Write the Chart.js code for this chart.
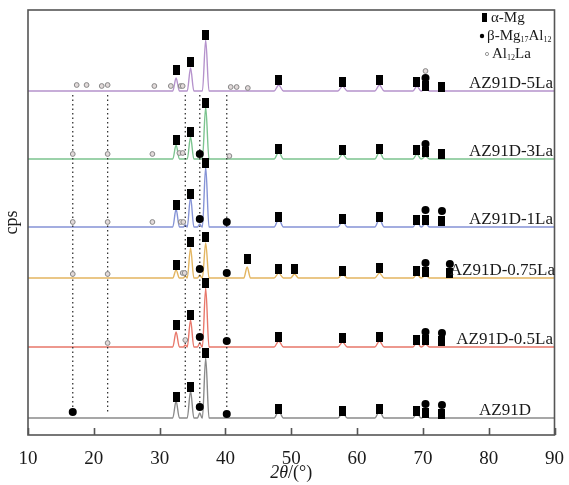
<!DOCTYPE html>
<html>
<head>
<meta charset="utf-8">
<script src="https://cdn.jsdelivr.net/npm/chart.js@4.4.1/dist/chart.umd.min.js"></script>
<style>
  html, body { margin: 0; padding: 0; background: #fff; }
  #wrap { width: 569px; height: 485px; }
</style>
</head>
<body>
<div id="wrap"><canvas id="xrdChart" width="569" height="485"></canvas></div>
<script>
// sample names, top to bottom, and vertical offset of each pattern (cps, arbitrary)
const samples = ['AZ91D-5La', 'AZ91D-3La', 'AZ91D-1La', 'AZ91D-0.75La', 'AZ91D-0.5La', 'AZ91D'];
const offsets = [344, 276, 208, 157, 88, 17];
const lineColors = ['#b592cc', '#7cc48f', '#8593d6', '#e3b560', '#e8776a', '#8a8a8a'];

// peaks: [2theta, height above baseline, half width]
const peaks5La = [[32.5, 13, 0.5], [34.7, 23, 0.5], [37.0, 51, 0.5], [48.1, 6, 0.7], [57.8, 5, 0.7], [63.4, 6, 0.7], [69.1, 5, 0.6], [70.4, 4, 0.6]];
const peaks3La = [[32.5, 14, 0.5], [34.7, 22, 0.5], [37.0, 52, 0.5], [48.1, 7, 0.7], [57.8, 5, 0.7], [63.4, 7, 0.7], [69.1, 5, 0.6], [70.4, 3, 0.6]];
const peaks1La = [[32.5, 18, 0.5], [33.9, 2, 0.3], [34.7, 30, 0.5], [36.1, 3, 0.35], [37.0, 60, 0.5], [48.1, 8, 0.7], [57.8, 6, 0.7], [63.4, 8, 0.7], [69.1, 6, 0.6], [70.4, 4, 0.6]];
const peaks075La = [[32.5, 8, 0.5], [33.9, 2, 0.3], [34.7, 30, 0.5], [36.1, 3, 0.35], [37.0, 35, 0.5], [43.3, 11, 0.5], [48.1, 5, 0.7], [50.5, 4, 0.6], [57.8, 4, 0.7], [63.4, 5, 0.7], [69.1, 4, 0.6], [70.4, 3, 0.6]];
const peaks05La = [[32.5, 15, 0.5], [33.9, 2, 0.3], [34.7, 27, 0.5], [36.1, 4, 0.35], [37.0, 59, 0.5], [48.1, 6, 0.7], [57.8, 5, 0.7], [63.4, 6, 0.7], [69.1, 5, 0.6], [70.4, 3, 0.6]];
const peaksAZ91D = [[32.5, 17, 0.5], [34.7, 27, 0.5], [36.1, 5, 0.35], [37.0, 60, 0.5], [48.1, 7, 0.7], [57.8, 5, 0.7], [63.4, 7, 0.7], [69.1, 5, 0.6], [70.4, 3, 0.6]];
const allPeaks = [peaks5La, peaks3La, peaks1La, peaks075La, peaks05La, peaksAZ91D];

// phase markers [2theta, cps]
const alphaMg = [
  [32.5, 365], [34.7, 373], [37.0, 400], [48.1, 355], [57.8, 353], [63.4, 355], [69.1, 353], [70.4, 349], [72.9, 348],
  [32.5, 295], [34.7, 303], [37.0, 332], [48.1, 286], [57.8, 285], [63.4, 286], [69.1, 285], [70.4, 283], [72.9, 281],
  [32.5, 230], [34.7, 241], [37.0, 272], [48.1, 218], [57.8, 216], [63.4, 218], [69.1, 215], [70.4, 215], [72.9, 214],
  [32.5, 170], [34.7, 193], [37.0, 198], [43.3, 176], [48.1, 166], [50.5, 166], [57.8, 164], [63.4, 167], [69.1, 164], [70.4, 163], [74.1, 162],
  [32.5, 110], [34.7, 120], [37.0, 152], [48.1, 98], [57.8, 97], [63.4, 98], [69.1, 95], [70.4, 95], [72.9, 94],
  [32.5, 38], [34.7, 48], [37.0, 82], [48.1, 26], [57.8, 24], [63.4, 26], [69.1, 24], [70.4, 22], [72.9, 21]
];
const betaMgAl = [
  [70.4, 357],
  [36.1, 281], [70.4, 291],
  [36.1, 216], [40.2, 213], [70.4, 225], [72.9, 224],
  [36.1, 166], [40.2, 162], [70.4, 172], [74.1, 171],
  [36.1, 98], [40.2, 94], [70.4, 103], [72.9, 102],
  [16.8, 23], [36.1, 28], [40.2, 21], [70.4, 31], [72.9, 30]
];
const al12La = [
  [17.4, 350], [18.9, 350], [21.2, 349], [22.1, 350], [29.2, 349], [31.7, 349], [33.2, 349], [33.5, 349], [40.8, 348], [41.7, 348], [43.4, 347], [70.4, 364],
  [16.8, 281], [22.1, 281], [28.9, 281], [33.0, 282], [33.5, 282], [40.6, 279],
  [16.8, 213], [22.1, 213], [28.9, 213], [33.2, 213], [33.6, 213],
  [16.8, 161], [22.1, 161], [33.5, 162], [33.8, 162],
  [22.1, 92], [33.9, 95]
];

// dotted guide lines: 2theta, top and bottom cps
const guideX = [16.8, 22.1, 33.9, 36.1, 40.2];
const guideTop = [340, 340, 340, 340, 340];
const guideBottom = [28, 22, 28, 30, 25];

const xTicks = [10, 20, 30, 40, 50, 60, 70, 80, 90];

function buildPattern(base, peaks) {
  const pts = [{x: 10, y: base}];
  peaks.forEach(([p, h, w]) => {
    pts.push({x: p - w, y: base}, {x: p, y: base + h}, {x: p + w, y: base});
  });
  pts.push({x: 90, y: base});
  return pts.sort((a, b) => a.x - b.x);
}

// tall black rectangle used for alpha-Mg
const rectMark = document.createElement('canvas');
rectMark.width = 7; rectMark.height = 10;
const rctx = rectMark.getContext('2d');
rctx.fillStyle = '#000';
rctx.fillRect(0, 0, 7, 10);

const datasets = [];
samples.forEach((name, i) => {
  datasets.push({
    label: name,
    data: buildPattern(offsets[i], allPeaks[i]),
    showLine: true,
    borderColor: lineColors[i],
    borderWidth: 1.4,
    pointRadius: 0,
    cubicInterpolationMode: 'monotone',
    order: 3
  });
});
guideX.forEach((gx, i) => {
  datasets.push({
    label: 'guide',
    data: [{x: gx, y: guideTop[i]}, {x: gx, y: guideBottom[i]}],
    showLine: true,
    borderColor: '#333',
    borderWidth: 1.3,
    borderDash: [1.5, 3],
    pointRadius: 0,
    order: 2
  });
});
datasets.push({
  label: 'Al12La',
  data: al12La.map(([x, y]) => ({x, y})),
  pointStyle: 'circle',
  pointRadius: 2.4,
  backgroundColor: '#e2dada',
  borderColor: '#888',
  borderWidth: 1,
  order: 1
});
datasets.push({
  label: 'beta',
  data: betaMgAl.map(([x, y]) => ({x, y})),
  pointStyle: 'circle',
  pointRadius: 4,
  backgroundColor: '#000',
  borderColor: '#000',
  borderWidth: 0,
  order: 0
});
datasets.push({
  label: 'alpha',
  data: alphaMg.map(([x, y]) => ({x, y})),
  pointStyle: rectMark,
  pointRadius: 4,
  order: 0
});

const serif = "'Liberation Serif', 'DejaVu Serif', serif";

const decorPlugin = {
  id: 'decor',
  afterDraw(chart) {
    const {ctx, chartArea: a, scales: {x, y}} = chart;
    ctx.save();
    // frame
    ctx.strokeStyle = '#555';
    ctx.lineWidth = 1.6;
    ctx.strokeRect(a.left, a.top, a.right - a.left, a.bottom - a.top);
    // inward ticks
    ctx.beginPath();
    xTicks.forEach(t => {
      const px = Math.round(x.getPixelForValue(t)) + 0.5;
      ctx.moveTo(px, a.bottom);
      ctx.lineTo(px, a.bottom - 7);
    });
    ctx.stroke();

    ctx.fillStyle = '#1a1a1a';
    // sample names
    ctx.font = '17px ' + serif;
    ctx.textBaseline = 'middle';
    samples.forEach((name, i) => {
      const py = y.getPixelForValue(offsets[i]) - 7;
      if (name === 'AZ91D') {
        ctx.textAlign = 'center';
        ctx.fillText(name, 505, py);
      } else {
        ctx.textAlign = 'right';
        ctx.fillText(name, name === 'AZ91D-0.75La' ? 555 : 553, py);
      }
    });

    // legend
    ctx.textAlign = 'left';
    ctx.fillStyle = '#000';
    ctx.fillRect(482, 13, 5, 9);
    ctx.font = '15px ' + serif;
    ctx.fillStyle = '#1a1a1a';
    ctx.fillText('\u03b1-Mg', 491, 18);
    ctx.beginPath();
    ctx.arc(482, 36, 2.2, 0, Math.PI * 2);
    ctx.fillStyle = '#000';
    ctx.fill();
    ctx.fillStyle = '#1a1a1a';
    let tx = 487;
    const parts = [['\u03b2-Mg', 15, 0], ['17', 8, 4], ['Al', 15, 0], ['12', 8, 4]];
    parts.forEach(([s, sz, dy]) => {
      ctx.font = sz + 'px ' + serif;
      ctx.fillText(s, tx, 36 + dy);
      tx += ctx.measureText(s).width;
    });
    ctx.beginPath();
    ctx.arc(487, 54, 1.6, 0, Math.PI * 2);
    ctx.strokeStyle = '#999';
    ctx.lineWidth = 1;
    ctx.stroke();
    tx = 492;
    [['Al', 15, 0], ['12', 8, 4], ['La', 15, 0]].forEach(([s, sz, dy]) => {
      ctx.font = sz + 'px ' + serif;
      ctx.fillText(s, tx, 54 + dy);
      tx += ctx.measureText(s).width;
    });

    // axis titles
    ctx.textAlign = 'left';
    const t1 = '2\u03b8';
    ctx.font = 'italic 18px ' + serif;
    const w1 = ctx.measureText(t1).width;
    ctx.font = '18px ' + serif;
    const t2 = '/(\u00b0)';
    const w2 = ctx.measureText(t2).width;
    const cx = (a.left + a.right) / 2 - (w1 + w2) / 2;
    ctx.font = 'italic 18px ' + serif;
    ctx.fillText(t1, cx, 473);
    ctx.font = '18px ' + serif;
    ctx.fillText(t2, cx + w1, 473);

    ctx.translate(12, (a.top + a.bottom) / 2);
    ctx.rotate(-Math.PI / 2);
    ctx.textAlign = 'center';
    ctx.font = '18px ' + serif;
    ctx.fillText('cps', 0, 0);
    ctx.restore();
  }
};

new Chart(document.getElementById('xrdChart').getContext('2d'), {
  type: 'scatter',
  data: {datasets},
  options: {
    responsive: false,
    animation: false,
    devicePixelRatio: 1,
    layout: {padding: {left: 28, right: 13, top: 10, bottom: 0}},
    plugins: {legend: {display: false}, tooltip: {enabled: false}},
    scales: {
      x: {
        type: 'linear',
        min: 10,
        max: 90,
        afterBuildTicks: scale => { scale.ticks = xTicks.map(v => ({value: v})); },
        afterFit: scale => { scale.height = 50; },
        grid: {display: false},
        border: {display: false},
        ticks: {
          color: '#1a1a1a',
          padding: 5,
          maxRotation: 0,
          autoSkip: false,
          font: {family: serif, size: 19}
        }
      },
      y: {
        type: 'linear',
        display: false,
        min: 0,
        max: 425
      }
    }
  },
  plugins: [decorPlugin]
});
</script>
</body>
</html>
